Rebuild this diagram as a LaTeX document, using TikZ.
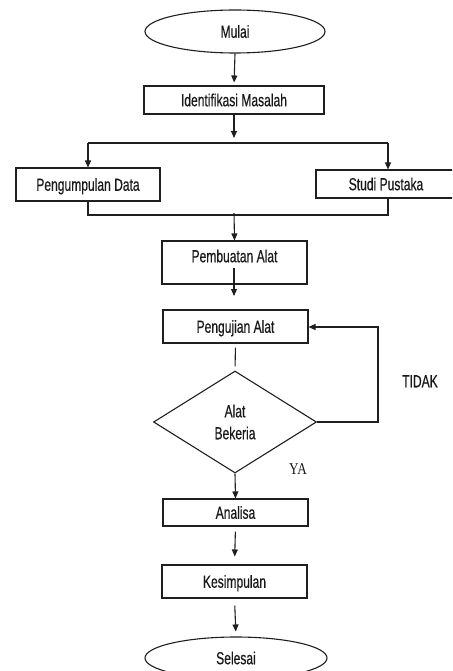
\documentclass[tikz,border=0pt]{standalone}
\usepackage{fontspec}
\setmainfont{Liberation Sans}
\newfontfamily\narrowsans[FakeStretch=0.69,FakeBold=0.4]{Liberation Sans}
\newfontfamily\narrowserif[FakeStretch=0.8]{Liberation Serif}
\usetikzlibrary{shapes.geometric,arrows.meta}
\tikzset{
  ln/.style={draw=black!88, line width=1.1pt},
  arr/.style={ln, -{Triangle[length=7pt,width=6pt]}},
  txt/.style={font=\narrowsans\fontsize{17.5}{22}\selectfont, text=black!90, text height=12.5pt, text depth=0pt, inner sep=0pt},
  box/.style={ln, rectangle, inner sep=0pt, fill=white, txt},
  oval/.style={ln, ellipse, inner sep=0pt, fill=white, txt},
  dia/.style={ln, diamond, inner sep=0pt, align=center, text=black!90, font=\narrowsans\fontsize{17.5}{22}\selectfont},
}
\begin{document}
\begin{tikzpicture}[x=1pt,y=-1pt]
\useasboundingbox (0,0) rectangle (452,671);
\clip (0,0) rectangle (452,671);
\node[oval, minimum width=180pt, minimum height=43pt] (mulai) at (235,31.5) {Mulai};
\node[box, minimum width=180pt, minimum height=28pt] (ident) at (234,100) {Identifikasi Masalah};
\node[box, minimum width=144pt, minimum height=33pt] (pd) at (88,184.5) {Pengumpulan Data};
\node[box, minimum width=140pt, minimum height=28pt] (sp) at (386,184) {Studi Pustaka};
\node[box, minimum width=145pt, minimum height=43pt] (pa) at (234.5,262.5) {};
\node[txt] (patext) at (234.5,256) {Pembuatan Alat};
\node[box, minimum width=145pt, minimum height=33pt] (pu) at (235.5,326.5) {Pengujian Alat};
\node[dia, minimum width=163pt, minimum height=102pt] (dm) at (235,422) {Alat\\Bekeria};
\node[box, minimum width=145pt, minimum height=27pt] (an) at (235.5,512.5) {Analisa};
\node[box, minimum width=145pt, minimum height=33pt] (ks) at (234.5,581.5) {Kesimpulan};
\node[oval, minimum width=182pt, minimum height=42pt] (sel) at (236,658) {Selesai};
\node[txt] (tidak) at (420,381) {TIDAK};
\node[font=\narrowserif\fontsize{16.5}{20}\selectfont, text=black!90, inner sep=0pt] (ya) at (298,469) {YA};

\coordinate (br) at (234,143);
\coordinate (brl) at (88,143);
\coordinate (brr) at (388,143);
\coordinate (jl) at (88,215);
\coordinate (jr) at (388,215);
\coordinate (jm) at (234,213);
\coordinate (pastart) at (234,268);
\coordinate (paend) at (234,296);
\coordinate (lpc) at (378,422);
\coordinate (lpt) at (378,327);

\draw[arr, shorten >=3pt] (mulai.south) -- (ident.north);
\draw[arr, shorten >=5pt] (ident.south) -- (br);
\draw[ln] (brl) -- (brr);
\draw[arr] (brl) -- (brl |- pd.north);
\draw[arr] (brr) -- (brr |- sp.north);
\draw[ln] (brl |- pd.south) -- (jl) -- (jr) -- (brr |- sp.south);
\draw[arr] (jm) -- (pa.north);
\draw[arr] (pastart) -- (paend);
\draw[ln, shorten <=4pt, shorten >=4pt] (pu.south) -- (dm.north);
\draw[arr] (dm.east) -- (lpc) -- (lpt) -- (pu.east |- lpt);
\draw[arr] (dm.south) -- (an.north);
\draw[arr, shorten <=5pt, shorten >=8pt] (an.south) -- (ks.north);
\draw[arr, shorten <=7pt, shorten >=5pt] (ks.south) -- (sel.north);
\end{tikzpicture}
\end{document}
